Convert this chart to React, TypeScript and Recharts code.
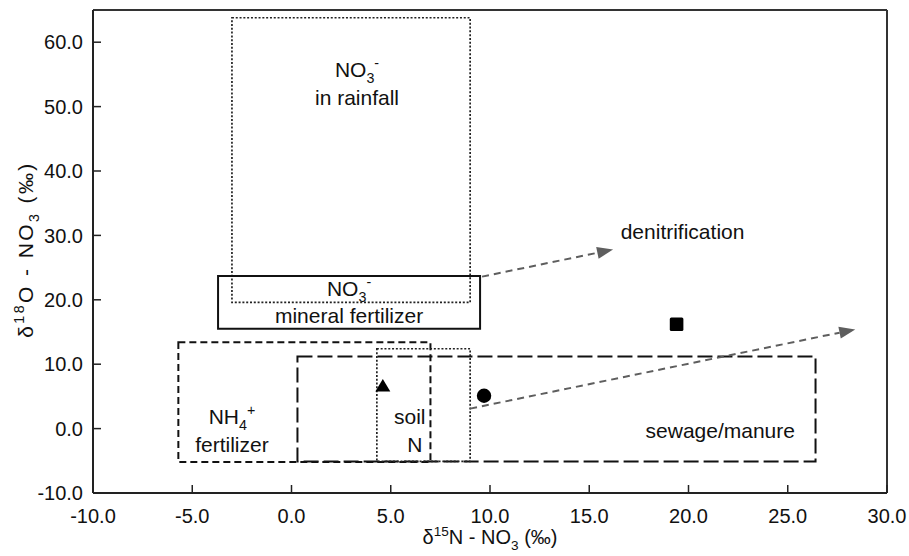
import {
  ScatterChart,
  Scatter,
  XAxis,
  YAxis,
  ReferenceArea,
  ReferenceLine,
  ReferenceDot,
} from "recharts"

const FONT = '"Liberation Sans", Arial, Helvetica, sans-serif'

const xTicks = [-10, -5, 0, 5, 10, 15, 20, 25, 30]
const yTicks = [-10, 0, 10, 20, 30, 40, 50, 60]

// typical δ15N / δ18O ranges of nitrate sources
const sourceRanges = [
  { name: "rainfall", x1: -3.0, x2: 9.0, y1: 19.6, y2: 63.8 },
  { name: "mineral", x1: -3.7, x2: 9.5, y1: 15.5, y2: 23.7 },
  { name: "ammonium", x1: -5.7, x2: 7.0, y1: -5.2, y2: 13.4 },
  { name: "sewage", x1: 0.3, x2: 26.4, y1: -5.1, y2: 11.2 },
  { name: "soil", x1: 4.3, x2: 9.0, y1: -5.1, y2: 12.4 },
]

// sampling sites
const triangleSite = [{ x: 4.6, y: 6.7 }]
const circleSite = [{ x: 9.7, y: 5.1 }]
const squareSite = [{ x: 19.4, y: 16.2 }]

// denitrification trends
const denitrificationArrows = [
  { from: { x: 9.6, y: 23.6 }, to: { x: 16.2, y: 27.8 } },
  { from: { x: 9.0, y: 3.1 }, to: { x: 28.4, y: 15.4 } },
]

type Piece = { t: string; sub?: boolean; sup?: boolean }

const no3: Piece[] = [{ t: "NO" }, { t: "3", sub: true }, { t: "-", sup: true }]
const nh4: Piece[] = [{ t: "NH" }, { t: "4", sub: true }, { t: "+", sup: true }]

const sourceLabels: { x: number; y: number; text: Piece[]; anchor?: string }[] = [
  { x: 3.3, y: 54.6, text: no3 },
  { x: 3.3, y: 50.3, text: [{ t: "in rainfall" }] },
  { x: 2.9, y: 20.6, text: no3 },
  { x: 2.9, y: 16.4, text: [{ t: "mineral fertilizer" }] },
  { x: -3.0, y: 0.7, text: nh4 },
  { x: -3.0, y: -3.6, text: [{ t: "fertilizer" }] },
  { x: 6.75, y: 0.76, text: [{ t: "soil" }], anchor: "end" },
  { x: 6.6, y: -3.6, text: [{ t: "N" }], anchor: "end" },
  { x: 21.6, y: -1.5, text: [{ t: "sewage/manure" }] },
  { x: 19.7, y: 29.4, text: [{ t: "denitrification" }] },
]

const boxStyle: Record<string, { strokeDasharray?: string; strokeWidth: number; stroke: string }> = {
  rainfall: { strokeDasharray: "2 1.8", strokeWidth: 1.7, stroke: "#222" },
  mineral: { strokeWidth: 2, stroke: "#111" },
  ammonium: { strokeDasharray: "7 4", strokeWidth: 2, stroke: "#111" },
  sewage: { strokeDasharray: "15 5", strokeWidth: 2, stroke: "#111" },
  soil: { strokeDasharray: "2 1.8", strokeWidth: 1.7, stroke: "#222" },
}

function RichText({ x, y, pieces, size, anchor = "middle", spacing = 0 }: any) {
  let shift = 0
  return (
    <text
      x={x}
      y={y}
      textAnchor={anchor}
      fontSize={size}
      fontFamily={FONT}
      fill="#111"
      letterSpacing={spacing}
    >
      {pieces.map((p: Piece, i: number) => {
        const target = p.sub ? size * 0.28 : p.sup ? -size * 0.42 : 0
        const dy = target - shift
        shift = target
        return (
          <tspan key={i} dy={dy} fontSize={p.sub || p.sup ? size * 0.68 : size}>
            {p.t}
          </tspan>
        )
      })}
    </text>
  )
}

function Arrow(props: any) {
  const { x1, y1, x2, y2 } = props
  const dx = x2 - x1
  const dy = y2 - y1
  const len = Math.hypot(dx, dy)
  const ux = dx / len
  const uy = dy / len
  const head = 16
  const half = 6
  const bx = x2 - ux * head
  const by = y2 - uy * head
  const pts = `${x2},${y2} ${bx - uy * half},${by + ux * half} ${bx + uy * half},${by - ux * half}`
  return (
    <g>
      <line x1={x1} y1={y1} x2={bx} y2={by} stroke="#5e5e5e" strokeWidth={2} strokeDasharray="7 5" />
      <polygon points={pts} fill="#5e5e5e" />
    </g>
  )
}

const Triangle = (p: any) => (
  <path
    d={`M${p.cx},${p.cy - 6.5} L${p.cx + 7.5},${p.cy + 6} L${p.cx - 7.5},${p.cy + 6} Z`}
    fill="#000"
  />
)
const Circle = (p: any) => <circle cx={p.cx} cy={p.cy} r={7.2} fill="#000" />
const Square = (p: any) => (
  <rect x={p.cx - 6.8} y={p.cy - 6.8} width={13.6} height={13.6} rx={1.5} fill="#000" />
)

function XTitle({ viewBox }: any) {
  const pieces: Piece[] = [
    { t: "δ" },
    { t: "15", sup: true },
    { t: "N - NO" },
    { t: "3", sub: true },
    { t: " (‰)" },
  ]
  return <RichText x={viewBox.x + viewBox.width / 2} y={viewBox.y + 51} pieces={pieces} size={20} />
}

function YTitle({ viewBox }: any) {
  const pieces: Piece[] = [
    { t: "δ" },
    { t: "18", sup: true },
    { t: "O - NO" },
    { t: "3", sub: true },
    { t: " (‰)" },
  ]
  const cx = viewBox.x + 33
  const cy = viewBox.y + viewBox.height / 2 - 2
  return (
    <g transform={`rotate(-90, ${cx}, ${cy})`}>
      <RichText x={cx} y={cy} pieces={pieces} size={21} spacing={2.4} />
    </g>
  )
}

export default function App() {
  return (
    <div
      style={{ position: "absolute", left: 0, top: 0, width: 909, height: 556, background: "#fff", fontFamily: FONT }}
    >
      <ScatterChart width={909} height={556} margin={{ top: 10, right: 22, bottom: 0, left: 0 }}>
        <XAxis
          type="number"
          dataKey="x"
          domain={[-10, 30]}
          ticks={xTicks}
          interval={0}
          height={63}
          tickSize={-8}
          tickMargin={24}
          tickFormatter={(v: number) => v.toFixed(1)}
          tick={{ fontSize: 20, fill: "#111", fontFamily: FONT }}
          axisLine={{ stroke: "#222", strokeWidth: 2 }}
          tickLine={{ stroke: "#222", strokeWidth: 1.5 }}
          label={<XTitle />}
        />
        <YAxis
          type="number"
          dataKey="y"
          domain={[-10, 65]}
          ticks={yTicks}
          interval={0}
          width={93}
          tickSize={-8}
          tickMargin={18}
          tickFormatter={(v: number) => v.toFixed(1)}
          tick={{ fontSize: 20, fill: "#111", fontFamily: FONT }}
          axisLine={{ stroke: "#222", strokeWidth: 2 }}
          tickLine={{ stroke: "#222", strokeWidth: 1.5 }}
          label={<YTitle />}
        />
        <ReferenceLine y={65} stroke="#333" strokeWidth={2} />
        <ReferenceLine x={30} stroke="#333" strokeWidth={2} />

        {sourceRanges.map((r) => (
          <ReferenceArea
            key={r.name}
            x1={r.x1}
            x2={r.x2}
            y1={r.y1}
            y2={r.y2}
            fill="none"
            fillOpacity={0}
            {...boxStyle[r.name]}
          />
        ))}

        {denitrificationArrows.map((a, i) => (
          <ReferenceLine key={i} segment={[a.from, a.to]} shape={Arrow} />
        ))}

        {sourceLabels.map((l, i) => (
          <ReferenceDot
            key={i}
            x={l.x}
            y={l.y}
            r={0}
            shape={(p: any) => <RichText x={p.cx} y={p.cy} pieces={l.text} size={21} anchor={l.anchor} />}
          />
        ))}

        <Scatter data={triangleSite} shape={Triangle} isAnimationActive={false} />
        <Scatter data={circleSite} shape={Circle} isAnimationActive={false} />
        <Scatter data={squareSite} shape={Square} isAnimationActive={false} />
      </ScatterChart>
    </div>
  )
}
